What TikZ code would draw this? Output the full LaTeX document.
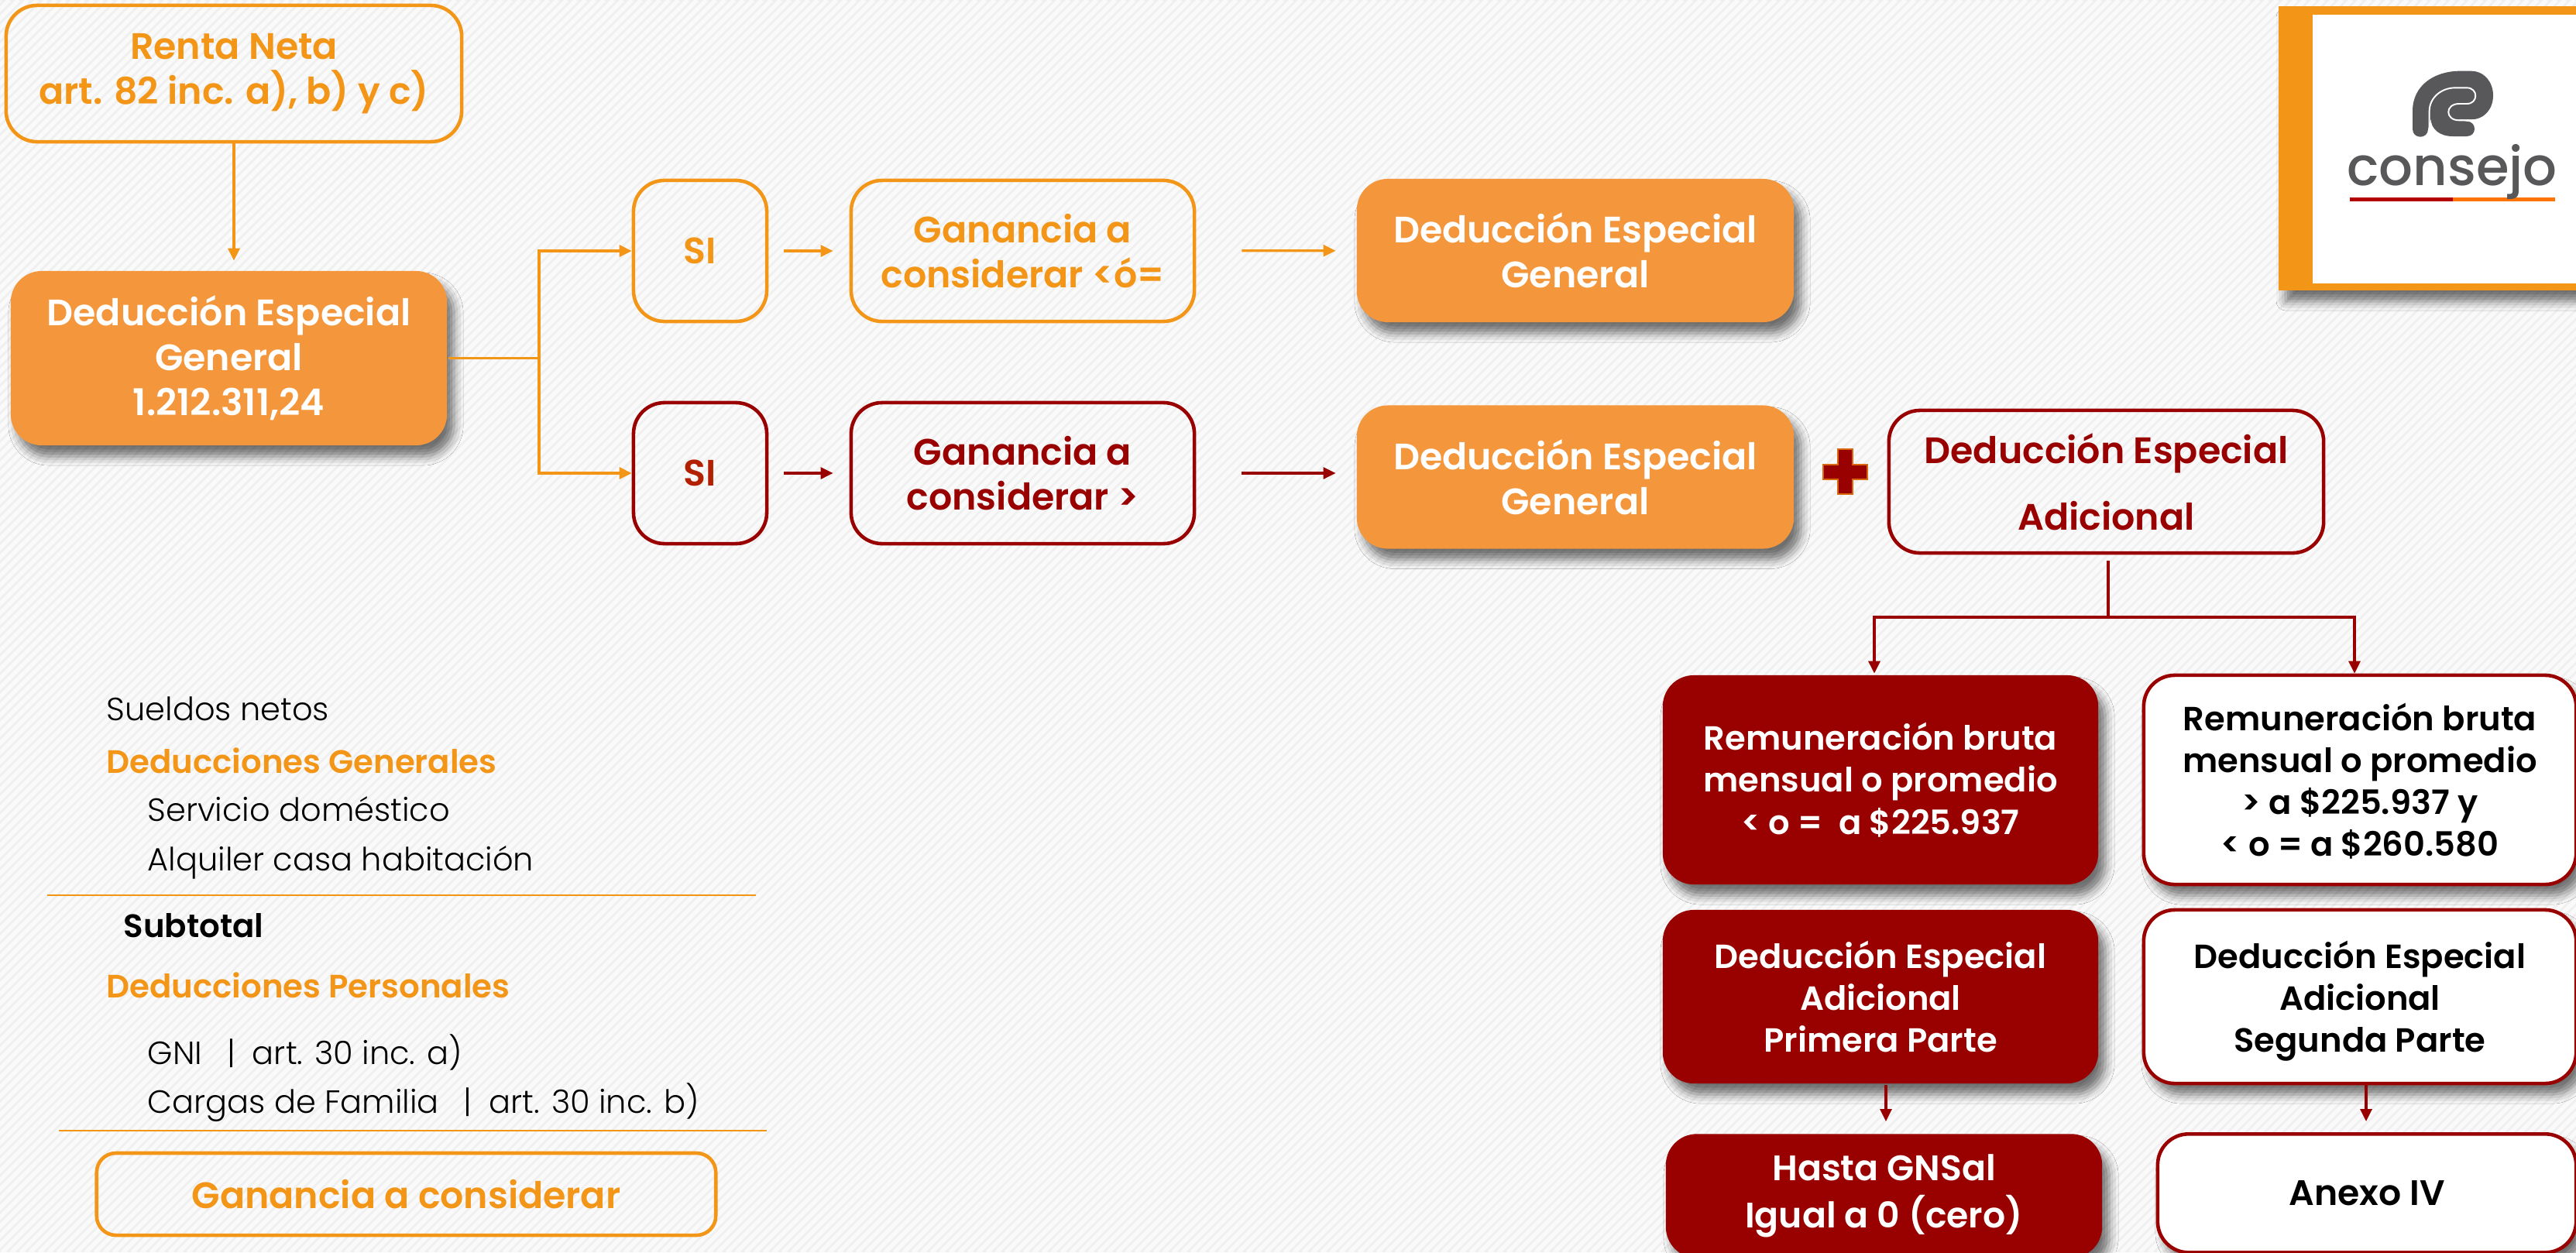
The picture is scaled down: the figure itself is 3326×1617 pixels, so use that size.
\documentclass[tikz,border=0pt]{standalone}
\usepackage{fontspec}
\setmainfont{Poppins}[BoldFont = {Poppins SemiBold}]
\newfontfamily\finafont{Poppins Light}
\newfontfamily\mediafont{Poppins Medium}
\usetikzlibrary{arrows.meta,shadows.blur}
\definecolor{naranja}{HTML}{F39517}
\definecolor{relleno}{HTML}{F4963B}
\definecolor{bordo}{HTML}{990000}
\definecolor{fondo}{HTML}{F0F0F0}
\definecolor{raya}{HTML}{FAFAFA}
\definecolor{logogris}{HTML}{58585A}
\tikzset{
  sombra/.style = {blur shadow = {shadow blur radius = 0.12cm, shadow xshift = 0.09cm, shadow yshift = -0.14cm, shadow opacity = 55}},
  caja/.style = {rectangle, rounded corners = 0.4cm, align = center, inner sep = 0pt, line width = 1.3pt, font = \fontsize{12.3}{15.4}\selectfont\bfseries},
  holgada/.style = {font = \fontsize{13.5}{16.5}\selectfont\bfseries},
  mayor/.style = {font = \fontsize{13}{15.4}\selectfont\bfseries},
  cajanar/.style = {caja, holgada, draw = naranja, text = naranja},
  cajabor/.style = {caja, holgada, draw = bordo, text = bordo},
  llenonar/.style = {caja, holgada, fill = relleno, text = white, sombra},
  llenobor/.style = {caja, fill = bordo, text = white, sombra},
  blancobor/.style = {caja, draw = bordo, fill = white, text = black, text depth = 0pt, sombra},
  flechanar/.style = {naranja, line width = 0.9pt, -{Triangle[length = 0.16cm, width = 0.15cm]}},
  flechabor/.style = {bordo, line width = 0.9pt, -{Triangle[length = 0.16cm, width = 0.15cm]}},
  lista/.style = {anchor = west, inner sep = 0pt, font = \fontsize{11.8}{14}\finafont},
  titulo/.style = {anchor = west, inner sep = 0pt, text = naranja, font = \fontsize{11.9}{14}\selectfont\bfseries}
}
\begin{document}
\begin{tikzpicture}[x = 0.01cm, y = -0.01cm]
\clip (0,0) rectangle (3326,1617);

% Fondo con rayas finas
\fill[fondo] (0,0) rectangle (3326,1617);
\foreach \i in {0,12,...,4950} {
  \draw[raya, line width = 1.5pt] (\i,0) -- (\i-1617,1617);
}

% Columna izquierda
\node[cajanar, minimum width = 5.88cm, minimum height = 1.76cm] (RN) at (302,95) {Renta Neta\\art. 82 inc. a), b) y c)};
\node[llenonar, minimum width = 5.63cm, minimum height = 2.25cm] (DEG) at (295.5,462.5) {Deducción Especial\\General\\1.212.311,24};
\node[cajanar, minimum width = 1.72cm, minimum height = 1.82cm] (SIA) at (904,324) {SI};
\node[cajabor, minimum width = 1.72cm, minimum height = 1.82cm, text = bordo!75!orange] (SIB) at (904,611) {SI};
\draw[flechanar, shorten > = 0.11cm] (RN.south) -- (RN.south |- DEG.north);
\coordinate (RAMA) at (696,462.5);
\draw[naranja, line width = 0.9pt] (DEG.east) -- (RAMA);
\draw[flechanar] (RAMA) |- (SIA.west);
\draw[flechanar] (RAMA) |- (SIB.west);

% Fila de arriba
\node[cajanar, minimum width = 4.43cm, minimum height = 1.82cm] (GA) at (1320.5,324) {Ganancia a\\considerar <ó=};
\node[llenonar, minimum width = 5.64cm, minimum height = 1.85cm] (DA) at (2034,323.5) {Deducción Especial\\General};
\draw[flechanar, shorten < = 0.2cm, shorten > = 0.21cm] (SIA) -- (GA);
\draw[flechanar, shorten < = 0.59cm, shorten > = 0.25cm] (GA) -- (DA);

% Fila de abajo
\node[cajabor, minimum width = 4.43cm, minimum height = 1.82cm] (GB) at (1320.5,611) {Ganancia a\\considerar >};
\node[llenonar, minimum width = 5.64cm, minimum height = 1.85cm] (DB) at (2034,616) {Deducción Especial\\General};
\draw[flechabor, shorten < = 0.2cm, shorten > = 0.21cm] (SIB) -- (GB);
\draw[flechabor, shorten < = 0.59cm, shorten > = 0.25cm] (GB) -- (DB.west |- GB);

% Signo mas
\draw[draw = naranja!70!bordo, fill = bordo, line width = 0.8pt] (2373,580) -- (2392,580) -- (2392,600) -- (2411,600) -- (2411,619) -- (2392,619) -- (2392,638) -- (2373,638) -- (2373,619) -- (2354,619) -- (2354,600) -- (2373,600) -- cycle;

% Deduccion adicional
\node[cajabor, minimum width = 5.61cm, minimum height = 1.84cm] (DAD) at (2719.5,622) {Deducción Especial\\[0.28cm]Adicional};
\coordinate (CRUCE) at (2722,797);
\draw[bordo, line width = 0.9pt, shorten < = 0.08cm] (DAD.south -| CRUCE) -- (CRUCE);

% Columna bordo
\node[llenobor, minimum width = 5.62cm, minimum height = 2.7cm] (RA) at (2428,1007) {Remuneración bruta\\mensual o promedio\\< o =~~a \$225.937};
\node[llenobor, minimum width = 5.62cm, minimum height = 2.24cm] (PP) at (2428,1287) {Deducción Especial\\Adicional\\Primera Parte};
\node[llenobor, mayor, minimum width = 5.63cm, minimum height = 1.6cm, anchor = north] (HG) at (2432.5,1462) {Hasta GNSal\\[0.06cm]Igual a 0 (cero)};

% Columna blanca
\node[blancobor, minimum width = 5.58cm, minimum height = 2.7cm] (RB) at (3047,1007) {Remuneración bruta\\mensual o promedio\\> a \$225.937 y\\< o = a \$260.580};
\node[blancobor, minimum width = 5.58cm, minimum height = 2.24cm] (SP) at (3047,1287) {Deducción Especial\\Adicional\\Segunda Parte};
\node[blancobor, mayor, minimum width = 5.4cm, minimum height = 1.53cm, anchor = north] (AN) at (3056,1462) {Anexo IV};

\draw[flechabor] (CRUCE) -| (RA.north -| 2420,0);
\draw[flechabor] (CRUCE) -| (RB.north -| 3040,0);
\draw[flechabor, shorten > = 0.14cm] (PP.south -| 2435,0) -- (HG.north -| 2435,0);
\draw[flechabor, shorten > = 0.14cm] (SP.south -| 3055,0) -- (AN.north -| 3055,0);

% Lista de la izquierda
\node[lista] (SN) at (137,915) {Sueldos netos};
\node[titulo] (DG) at (137,982) {Deducciones Generales};
\node[lista] (SD) at (190,1045) {Servicio doméstico};
\node[lista] (AC) at (190,1114) {Alquiler casa habitación};
\coordinate (LA) at (61,1156);
\coordinate (LB) at (976,1156);
\draw[naranja, line width = 0.7pt] (LA) -- (LB);
\node[titulo, text = black] (ST) at (159,1195) {Subtotal};
\node[titulo] (DP) at (137,1272) {Deducciones Personales};
\node[lista] (GN) at (190,1359) {GNI\hspace{0.32cm}|\hspace{0.22cm}art. 30 inc. a)};
\node[lista] (CF) at (190,1424) {Cargas de Familia\hspace{0.32cm}|\hspace{0.22cm}art. 30 inc. b)};
\coordinate (LC) at (76,1460);
\coordinate (LD) at (990,1460);
\draw[naranja, line width = 0.7pt] (LC) -- (LD);
\node[cajanar, minimum width = 7.99cm, minimum height = 1.06cm, rounded corners = 0.25cm] (GC) at (524.5,1542) {Ganancia a considerar};

% Logo
\fill[naranja, sombra] (2942,8) rectangle (3340,375);
\fill[white] (2986,19) rectangle (3340,366);
\begin{scope}[shift = {(2850,0)}, scale = 1/3]
\fill[logogris] (795,500) -- (795,430) .. controls (795,330) and (880,275) .. (980,275) -- (1020,275) .. controls (1075,275) and (1107,320) .. (1107,370) .. controls (1107,420) and (1075,463) .. (1020,463) -- (960,463) -- (1005,470) .. controls (1045,470) and (1045,528) .. (1005,528) -- (950,528) .. controls (900,528) and (866,500) .. (866,460) -- (855,500) .. controls (855,540) and (795,540) .. (795,500) -- cycle;
\draw[white, line width = 0.55pt] (860,535) -- (860,430) .. controls (860,380) and (905,340) .. (960,340) -- (1005,340) .. controls (1050,340) and (1050,402) .. (1005,402) -- (975,402) .. controls (920,402) and (920,466) .. (975,466) -- (1040,466);
\fill[red!70!black] (552,764) rectangle (950,781);
\fill[orange!90!red] (950,764) rectangle (1347,781);
\end{scope}
\node[text = logogris, inner sep = 0pt, font = \fontsize{19.6}{24}\mediafont] (CO) at (3166,222) {consejo};
\end{tikzpicture}
\end{document}
